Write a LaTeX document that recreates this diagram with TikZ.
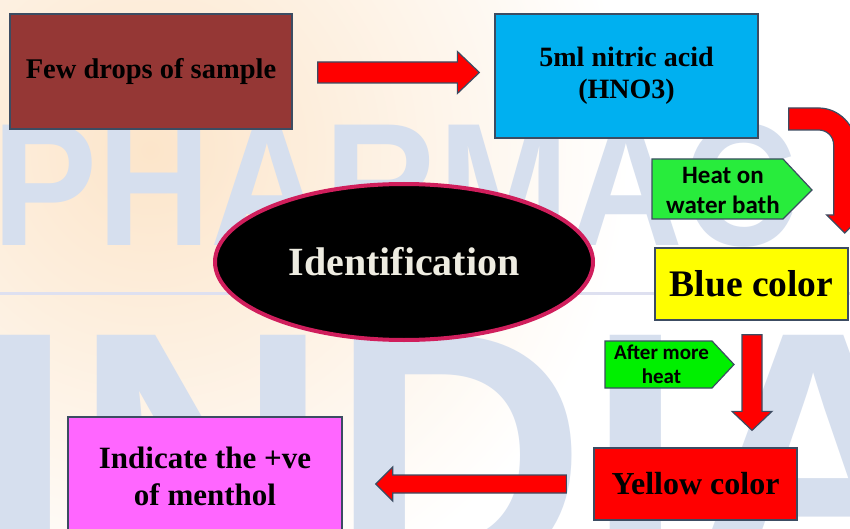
\documentclass[tikz,border=0pt]{standalone}
\usepackage{fontspec}
\setmainfont{Liberation Serif}
\newfontfamily\calfont{Carlito}
\newfontfamily\wmfont{Liberation Sans}
\usetikzlibrary{calc,shapes.geometric}

\definecolor{edge}{RGB}{60,76,98}
\definecolor{brick}{RGB}{149,55,53}
\definecolor{sky}{RGB}{0,176,240}
\definecolor{lemon}{RGB}{255,255,0}
\definecolor{scarlet}{RGB}{255,0,0}
\definecolor{orchid}{RGB}{255,102,255}
\definecolor{greenA}{RGB}{40,236,60}
\definecolor{greenB}{RGB}{0,240,0}
\definecolor{rim}{RGB}{208,30,92}
\definecolor{cream}{RGB}{238,236,225}
\definecolor{wmblue}{RGB}{214,223,238}
\definecolor{peach}{RGB}{252,229,202}
\definecolor{ruleline}{RGB}{222,224,240}

\pgfdeclarelayer{wmlayer}
\pgfdeclarelayer{shapelayer}
\pgfsetlayers{wmlayer,shapelayer,main}

\tikzset{
  box/.style={draw=edge, line width=1.3pt, inner sep=0pt, align=center},
  arrowshape/.style={draw=edge, line width=1.2pt, fill=scarlet, line join=miter},
  tagshape/.style={draw=edge, line width=1.2pt, line join=miter},
  serifbold/.style={font=\bfseries\fontsize{#1}{#1}\selectfont},
  watermark/.style={anchor=base west, inner sep=0pt, text=wmblue},
}

% block arrow: #1 tail point, #2 tip point, #3 half body width,
% #4 half head width, #5 head length
\newcommand\blockarrow[5]{%
  \path ($(#2)!#5!(#1)$) coordinate (hb);
  \draw[arrowshape] ($(#1)!#3!90:(#2)$) -- ($(hb)!#3!-90:(#1)$)
    -- ($(hb)!#4!-90:(#1)$) -- (#2) -- ($(hb)!#4!90:(#1)$)
    -- ($(hb)!#3!90:(#1)$) -- ($(#1)!#3!-90:(#2)$) -- cycle;}

\begin{document}
\begin{tikzpicture}[x=1pt, y=-1pt]
\useasboundingbox (0,0) rectangle (850,529);

% background: glow, rule line and watermark lettering
\begin{pgfonlayer}{wmlayer}
  \clip (0,0) rectangle (850,529);
  \fill[white] (0,0) rectangle (850,529);
  \shade[inner color=peach, outer color=white] (150,150) circle[radius=480pt];
  \draw[ruleline, line width=3pt] (0,293) -- (850,293);
  \node[watermark, font=\wmfont\bfseries\fontsize{175}{175}\selectfont]
    (wmtop) at (-8,245) {\scalebox{0.9}[1]{PHARMAC}};
  \node[watermark, font=\wmfont\bfseries\fontsize{355}{355}\selectfont]
    (wmbottom) at (-25,579) {INDIA};
\end{pgfonlayer}

\begin{scope}
\clip (0,0) rectangle (850,529);

% process boxes
\node[box, fill=brick, minimum width=282pt, minimum height=115pt, serifbold=28.5]
  (few) at (151,71.5) {Few drops of sample};
\node[box, fill=sky, minimum width=263pt, minimum height=124pt,
      font=\bfseries\fontsize{28}{32}\selectfont]
  (nitric) at (626.5,76) {5ml nitric acid\\(HNO3)};
\node[box, fill=lemon, minimum width=193pt, minimum height=72pt, serifbold=37.5]
  (blue) at (751.5,284) {Blue color};
\node[box, fill=scarlet, minimum width=203pt, minimum height=72pt, serifbold=32]
  (yel) at (695.5,484) {Yellow color};
\node[box, fill=orchid, minimum width=274pt, minimum height=118pt,
      font=\bfseries\fontsize{31}{37}\selectfont]
  (ind) at (205,476) {Indicate the +ve\\of menthol};

% central title
\node[ellipse, fill=black, draw=rim, line width=4pt, inner sep=0pt,
      minimum width=378pt, minimum height=156pt, text=cream, serifbold=40]
  (ident) at (404,262) {Identification};

% condition tags
\node[align=center, inner sep=0pt, font=\calfont\bfseries\fontsize{25}{30}\selectfont]
  (heat) at (723,190) {Heat on\\water bath};
\node[align=center, inner sep=0pt, font=\calfont\bfseries\fontsize{21}{24}\selectfont]
  (more) at (661.5,364.5) {After more\\heat};
\begin{pgfonlayer}{shapelayer}
  \draw[tagshape, fill=greenA] ($(heat)+(-71,-31)$) -- ($(heat)+(60,-31)$)
    -- ($(heat)+(89,0)$) -- ($(heat)+(60,29)$) -- ($(heat)+(-71,29)$) -- cycle;
  \draw[tagshape, fill=greenB] ($(more)+(-56.5,-23.5)$) -- ($(more)+(50.5,-23.5)$)
    -- ($(more)+(72.5,0)$) -- ($(more)+(50.5,23.5)$) -- ($(more)+(-56.5,23.5)$) -- cycle;
\end{pgfonlayer}

% straight block arrows
\coordinate (a1s) at ($(few.east)+(25,1)$);
\coordinate (a1e) at ($(nitric.west)+(-15,-3.5)$);
\blockarrow{a1s}{a1e}{10.5pt}{21pt}{22pt}

\coordinate (a2s) at ($(blue.south)+(0.5,14)$);
\coordinate (a2e) at ($(yel.north)+(56.5,-17)$);
\blockarrow{a2s}{a2e}{10pt}{20pt}{19pt}

\coordinate (a3s) at ($(yel.west)+(-27,0)$);
\coordinate (a3e) at ($(ind.east)+(33,8)$);
\blockarrow{a3s}{a3e}{9pt}{17pt}{17pt}

% bent arrow from the acid box down to the blue result
\coordinate (bend) at ($(nitric.east)+(30,32)$);
\draw[arrowshape] (bend) -- ++(30,0)
  .. controls +(20,0) and +(0,-20) .. ++(37,37)
  -- ++(0,70) -- ++(7,0) -- ++(-18,18) -- ++(-18,-18) -- ++(7,0)
  -- ++(0,-70)
  .. controls +(0,-9) and +(8,0) .. ++(-15,-15)
  -- ++(-30,0) -- cycle;
\end{scope}
\end{tikzpicture}
\end{document}
